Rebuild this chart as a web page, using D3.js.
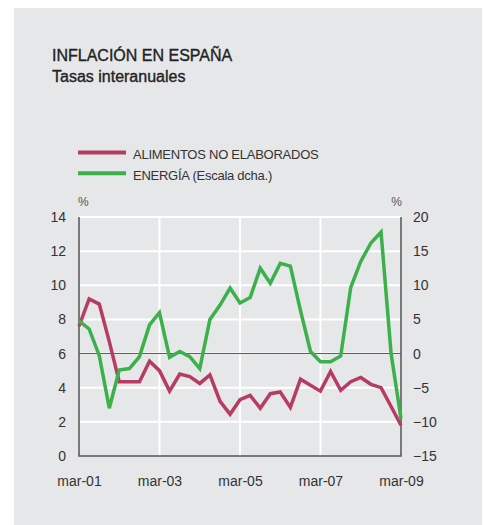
<!DOCTYPE html>
<html>
<head>
<meta charset="utf-8">
<script src="https://cdn.jsdelivr.net/npm/d3@7"></script>
<style>
  body { margin: 0; background: #fff; }
  svg text { font-family: "Liberation Sans", Arial, sans-serif; }
</style>
</head>
<body>
<svg id="chart" width="483" height="525"></svg>
<script>
// quarterly data, mar-01 .. mar-09
const startDate = new Date(2001, 2, 1);
const endDate = new Date(2009, 2, 1);
const alimentos = [7.6, 9.2, 8.9, 6.7, 4.35, 4.35, 4.35, 5.55, 5.0, 3.8, 4.8, 4.65, 4.25, 4.75, 3.2, 2.45,
  3.3, 3.55, 2.8, 3.65, 3.75, 2.85, 4.5, 4.15, 3.8, 4.95, 3.85, 4.35, 4.6, 4.2, 4.0, 2.9, 1.8];
const energia = [4.8, 3.6, -0.3, -8.0, -2.4, -2.2, -0.45, 4.2, 6.0, -0.55, 0.3, -0.45, -2.2, 5.0, 7.1, 9.6,
  7.4, 8.2, 12.5, 10.3, 13.2, 12.8, 6.3, 0.3, -1.2, -1.2, -0.35, 9.7, 13.5, 16.2, 17.8, 0.0, -9.5];
const leftTicks = [0, 2, 4, 6, 8, 10, 12, 14];
const rightTicks = [-15, -10, -5, 0, 5, 10, 15, 20];
const xTickLabels = ["mar-01", "mar-03", "mar-05", "mar-07", "mar-09"];
const seriesNames = ["ALIMENTOS NO ELABORADOS", "ENERGÍA (Escala dcha.)"];

const colors = { alim: "#b73c63", ener: "#3cb04a" };
const dates = alimentos.map((_, i) => d3.timeMonth.offset(startDate, 3 * i));
const xTicks = xTickLabels.map((_, i) => d3.timeMonth.offset(startDate, 24 * i));

const svg = d3.select("#chart");
const margin = { left: 79, right: 401, top: 217, bottom: 456 };

svg.append("rect")
  .attr("x", 14).attr("y", 8)
  .attr("width", 468).attr("height", 517)
  .attr("fill", "#e6e7e9");

// titles
svg.append("text").attr("x", 52).attr("y", 61)
  .attr("font-size", 16).attr("fill", "#222")
  .attr("stroke", "#222").attr("stroke-width", 0.35)
  .text("INFLACIÓN EN ESPAÑA");
svg.append("text").attr("x", 52).attr("y", 82)
  .attr("font-size", 16).attr("fill", "#222")
  .attr("stroke", "#222").attr("stroke-width", 0.35)
  .text("Tasas interanuales");

const x = d3.scaleTime().domain([startDate, endDate]).range([margin.left, margin.right]);
const yL = d3.scaleLinear().domain([0, 14]).range([margin.bottom, margin.top]);
const yR = d3.scaleLinear().domain([-15, 20]).range([margin.bottom, margin.top]);

// grid
svg.append("g").selectAll("line")
  .data(leftTicks.filter(d => d > 0))
  .join("line")
  .attr("x1", margin.left).attr("x2", margin.right)
  .attr("y1", d => yL(d)).attr("y2", d => yL(d))
  .attr("stroke", "#fff").attr("stroke-width", 2);

svg.append("g").selectAll("line")
  .data(xTicks.slice(1, -1))
  .join("line")
  .attr("x1", d => x(d)).attr("x2", d => x(d))
  .attr("y1", margin.top).attr("y2", margin.bottom)
  .attr("stroke", "#fff").attr("stroke-width", 2);

// zero line of right scale
svg.append("line")
  .attr("x1", margin.left).attr("x2", margin.right)
  .attr("y1", yR(0)).attr("y2", yR(0))
  .attr("stroke", "#555").attr("stroke-width", 1);

// axes
const axisStyle = g => {
  g.select(".domain").remove();
  g.selectAll("text").attr("font-size", 14).attr("fill", "#333")
    .attr("font-family", "Liberation Sans, Arial, sans-serif");
};

svg.append("g")
  .attr("transform", `translate(${margin.left},0)`)
  .call(d3.axisLeft(yL).tickValues(leftTicks).tickSize(0).tickPadding(13))
  .call(axisStyle);

svg.append("g")
  .attr("transform", `translate(${margin.right},0)`)
  .call(d3.axisRight(yR).tickValues(rightTicks).tickSize(0).tickPadding(12))
  .call(axisStyle);

svg.append("g")
  .attr("transform", `translate(0,${margin.bottom})`)
  .call(d3.axisBottom(x).tickValues(xTicks).tickSize(0).tickPadding(20)
    .tickFormat((d, i) => xTickLabels[i]))
  .call(axisStyle);

// axis frame lines
svg.append("path")
  .attr("d", `M${margin.left},${margin.top}V${margin.bottom}H${margin.right}V${margin.top}`)
  .attr("fill", "none").attr("stroke", "#555").attr("stroke-width", 1.5);

// % units
svg.append("text").attr("x", 78).attr("y", 206)
  .attr("font-size", 12).attr("fill", "#555").text("%");
svg.append("text").attr("x", 402).attr("y", 206).attr("text-anchor", "end")
  .attr("font-size", 12).attr("fill", "#555").text("%");

// lines
const lineL = d3.line().x((d, i) => x(dates[i])).y(d => yL(d));
const lineR = d3.line().x((d, i) => x(dates[i])).y(d => yR(d));

svg.append("path").datum(alimentos)
  .attr("d", lineL)
  .attr("fill", "none").attr("stroke", colors.alim)
  .attr("stroke-width", 3.5).attr("stroke-linejoin", "miter");

svg.append("path").datum(energia)
  .attr("d", lineR)
  .attr("fill", "none").attr("stroke", colors.ener)
  .attr("stroke-width", 3.5).attr("stroke-linejoin", "miter");

// legend
const legend = svg.append("g");
[colors.alim, colors.ener].forEach((c, i) => {
  const ly = 152.5 + i * 20.8;
  legend.append("line")
    .attr("x1", 78).attr("x2", 126)
    .attr("y1", ly).attr("y2", ly)
    .attr("stroke", c).attr("stroke-width", 4);
  legend.append("text")
    .attr("x", 133).attr("y", ly + 6.5)
    .attr("font-size", 13).attr("fill", "#333")
    .style("letter-spacing", "-0.25px")
    .text(seriesNames[i]);
});
</script>
</body>
</html>
